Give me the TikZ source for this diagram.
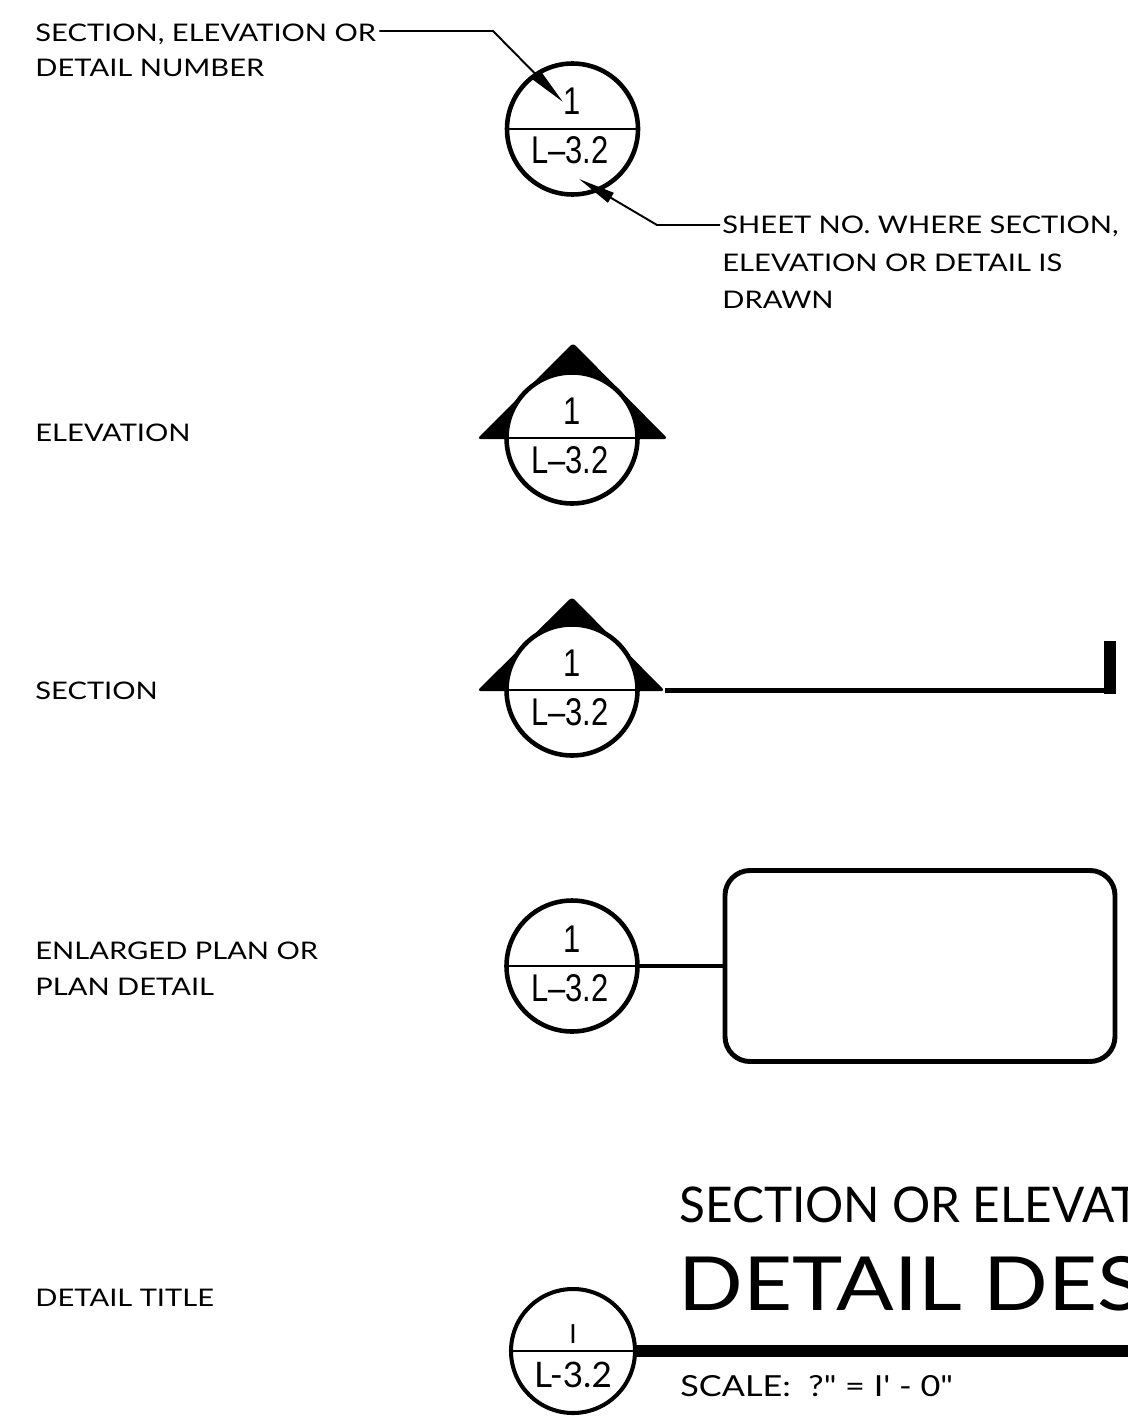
\documentclass[tikz,border=0pt]{standalone}
\usepackage{fontspec}
\setmainfont{Lato}
\newfontfamily\tagfont{Liberation Sans}
\newfontfamily\plainfont[Ligatures=TeXOff]{Lato}
\usetikzlibrary{arrows.meta}

\tikzset{
  bubble/.style={circle, draw, line width=2.6pt, fill=white, minimum size=131*0.02cm, inner sep=0pt},
  tagnum/.style={anchor=base, inner sep=0pt, font=\tagfont\fontsize{22}{22}\selectfont, xscale=0.8, transform shape},
  label/.style={anchor=base west, inner sep=0pt, font=\fontsize{13.8}{14}\selectfont, xscale=1.2, transform shape},
  leader/.style={line width=1.1pt, -{Triangle[length=0.74cm, width=0.22cm]}},
  divider/.style={line width=1.1pt},
  heavy/.style={line width=2.6pt},
}

\begin{document}
\begin{tikzpicture}[x=0.02cm, y=-0.02cm]
\useasboundingbox (0,0) rectangle (1128,1419);
\clip (0,0) rectangle (1128,1419);

% --- key bubble with leaders -------------------------------------------
\node[bubble] (k) at (572.5,129) {};
\draw[divider] (k.west) -- (k.east);
\node[tagnum] (kn) at (572,115) {1};
\node[tagnum] (ks) at (570,164) {L–3.2};

\node[label] (lnum1) at (35,42) {SECTION, ELEVATION OR};
\node[label] (lnum2) at (35,77) {DETAIL NUMBER};
\coordinate (knTip) at (563,102);
\draw[leader] (lnum1.east |- 0,31) ++(3,0) -- (493,31) -- (knTip);

\node[label] (lsh1) at (722,234) {SHEET NO. WHERE SECTION,};
\node[label] (lsh2) at (722,271) {ELEVATION OR DETAIL IS};
\node[label] (lsh3) at (722,308) {DRAWN};
\coordinate (ksTip) at (579,179);
\draw[leader] (lsh1.west |- 0,225) ++(-2,0) -- (657,225) -- (ksTip);

% --- elevation marker ---------------------------------------------------
\node[label] (lelev) at (35,441) {ELEVATION};
\fill[rounded corners=2pt] (477,439) -- (573,343) -- (668,439) -- cycle;
\node[bubble] (e) at (572,438) {};
\draw[divider] (e.west) -- (e.east);
\node[tagnum] at (572,424) {1};
\node[tagnum] at (570,473) {L–3.2};

% --- section marker -----------------------------------------------------
\node[label] (lsec) at (35,699) {SECTION};
\fill[rounded corners=2pt] (477,691) -- (572,597) -- (665,691) -- cycle;
\node[bubble] (s) at (572,690) {};
\draw[divider] (s.west) -- (s.east);
\node[tagnum] at (572,676) {1};
\node[tagnum] at (570,725) {L–3.2};
\coordinate (cutEnd) at (1110,690.5);
\draw[heavy] (665,690.5) -- (cutEnd);
\draw[line width=7pt] (cutEnd) ++(0,3) -- (1110,641);

% --- enlarged plan marker -----------------------------------------------
\node[label] (lpl1) at (35,959) {ENLARGED PLAN OR};
\node[label] (lpl2) at (35,995) {PLAN DETAIL};
\node[bubble] (p) at (572,966) {};
\draw[divider] (p.west) -- (p.east);
\node[tagnum] at (572,952) {1};
\node[tagnum] at (570,1001) {L–3.2};
\node[draw, line width=2.8pt, rounded corners=0.5cm, minimum width=390*0.02cm, minimum height=191*0.02cm, inner sep=0pt] (box) at (920,966) {};
\draw[heavy] (p.east) -- (box.west);

% --- detail title ---------------------------------------------------------
\node[label] (ltitle) at (35,1306) {DETAIL TITLE};
\node[bubble, line width=2.3pt, minimum size=124*0.02cm] (t) at (573,1351) {};
\draw[divider] (t.west) -- (t.east);
\node[anchor=base, inner sep=0pt, font=\fontsize{15}{15}\selectfont] at (573,1343) {I};
\node[anchor=base, inner sep=0pt, font=\fontsize{20}{20}\selectfont] at (573,1387) {L-3.2};
\coordinate (barEnd) at (1140,1351);
\draw[line width=6.8pt] (t.east) -- (barEnd);
\node[anchor=base west, inner sep=0pt, font=\fontsize{28}{28}\selectfont, xscale=0.97, transform shape] (tt1) at (679,1222) {SECTION OR ELEVATION};
\node[anchor=base west, inner sep=0pt, font=\fontsize{42.5}{43}\selectfont, xscale=1.14, transform shape] (tt2) at (678,1310) {DETAIL DESCRIPTION};
\node[anchor=base west, inner sep=0pt, font=\plainfont\fontsize{16.5}{17}\selectfont, xscale=1.18, transform shape] (tsc) at (680,1396) {SCALE:\ \ ?" = I' - 0"};
\end{tikzpicture}
\end{document}
